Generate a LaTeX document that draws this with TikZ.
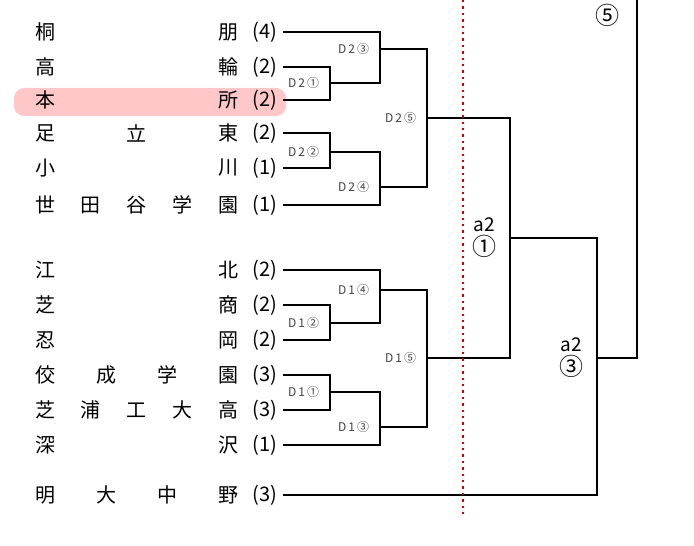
\documentclass[tikz,border=0pt]{standalone}
\usepackage{fontspec}
\newfontfamily\cjk{Noto Sans CJK JP}
\usetikzlibrary{positioning}
\tikzset{every picture/.style={line width=1.3pt}}

\begin{document}
\begin{tikzpicture}[x=0.5pt,y=-0.5pt,every node/.style={font=\cjk},
    team/.style={font=\cjk\fontsize{10}{12}\selectfont,inner sep=0pt},
    lbl/.style={font=\cjk\fontsize{6}{7}\selectfont,text=black!75,anchor=east,xshift=-1.5pt},
    big/.style={font=\cjk\fontsize{9.5}{12}\selectfont,align=center,anchor=east,xshift=-3pt}]
        \useasboundingbox (0,0) rectangle (694,545);
        \fill[red!22,rounded corners=5pt] (14,88) rectangle (286,116);
        % teams
        \foreach \y/\n/\s/\r [count=\k] in {32/2/{桐,朋}/4, 67/2/{高,輪}/2, 100/2/{本,所}/2,
            133/3/{足,立,東}/2, 168/2/{小,川}/1, 205/5/{世,田,谷,学,園}/1,
            270/2/{江,北}/2, 305/2/{芝,商}/2, 340/2/{忍,岡}/2,
            375/4/{佼,成,学,園}/3, 410/5/{芝,浦,工,大,高}/3, 445/2/{深,沢}/1,
            495/4/{明,大,中,野}/3} {
            \foreach \c [count=\i] in \s
                \node[team] at ({45+(\i-1)*183/(\n-1)},\y) {\c};
            \node[team] (r\k) at (265,\y) {(\r)};
            \coordinate (t\k) at (283,\y);
        }
        % match points
        \coordinate (d21) at (330,83);
        \coordinate (d23) at (380,49);
        \coordinate (d22) at (330,152);
        \coordinate (d24) at (380,187);
        \coordinate (d25) at (427,118);
        \coordinate (d12) at (330,323);
        \coordinate (d14) at (380,290);
        \coordinate (d11) at (330,392);
        \coordinate (d13) at (380,427);
        \coordinate (d15) at (427,358);
        \coordinate (a21) at (510,238);
        \coordinate (a23) at (597,358);
        \coordinate (top) at (637,0);

        \draw (t2) -| (d21) |- (t3);
        \draw (t1) -| (d23) |- (d21);
        \draw (t4) -| (d22) |- (t5);
        \draw (d22) -| (d24) |- (t6);
        \draw (d23) -| (d25) |- (d24);
        \draw (t8) -| (d12) |- (t9);
        \draw (t7) -| (d14) |- (d12);
        \draw (t10) -| (d11) |- (t11);
        \draw (d11) -| (d13) |- (t12);
        \draw (d14) -| (d15) |- (d13);
        \draw (d25) -| (a21) |- (d15);
        \draw (a21) -| (a23) |- (t13);
        \draw (a23) -| (top);

        \node[lbl] at (d21) {D\,2\,①};
        \node[lbl] at (d23) {D\,2\,③};
        \node[lbl] at (d22) {D\,2\,②};
        \node[lbl] at (d24) {D\,2\,④};
        \node[lbl] at (d25) {D\,2\,⑤};
        \node[lbl] at (d12) {D\,1\,②};
        \node[lbl] at (d14) {D\,1\,④};
        \node[lbl] at (d11) {D\,1\,①};
        \node[lbl] at (d13) {D\,1\,③};
        \node[lbl] at (d15) {D\,1\,⑤};
        \node[big] at (a21) {a2\\{\fontsize{12}{14}\selectfont ①}};
        \node[big] at (a23) {a2\\{\fontsize{12}{14}\selectfont ③}};
        \node[font=\cjk\fontsize{12}{14}\selectfont] at (607,15) {⑤};

        \draw[red!80!black,dotted,line width=1.2pt] (463,0) -- (463,515);
    \end{tikzpicture}
\end{document}
